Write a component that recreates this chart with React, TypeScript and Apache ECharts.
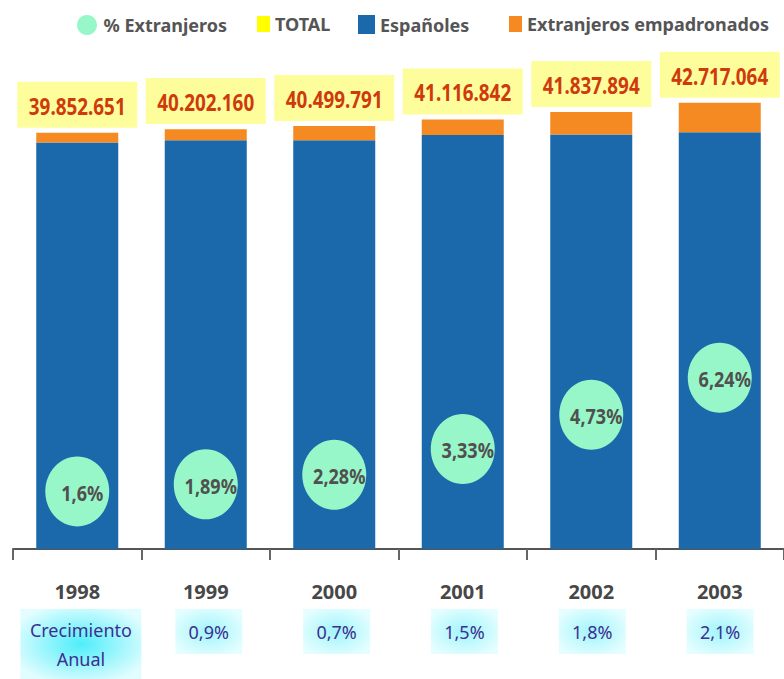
import React, { useEffect, useRef } from 'react';
import * as echarts from 'echarts';

const years = ['1998', '1999', '2000', '2001', '2002', '2003'];
const totals = [39852651, 40202160, 40499791, 41116842, 41837894, 42717064];
const espanoles = [38920000, 39140000, 39140000, 39650000, 39680000, 39900000];
const extranjeros = [930000, 1060000, 1360000, 1470000, 2160000, 2820000];
const pctExtranjeros = [1.6, 1.89, 2.28, 3.33, 4.73, 6.24];
const growthLabels = ['Crecimiento\nAnual', '0,9%', '0,7%', '1,5%', '1,8%', '2,1%'];
const legendNames = ['% Extranjeros', 'TOTAL', 'Españoles', 'Extranjeros empadronados'];

const FONT = '"Noto Sans", "DejaVu Sans Condensed", sans-serif';
const NARROW = 0.82;

const fmtThousands = (v: number) => String(v).replace(/\B(?=(\d{3})+(?!\d))/g, '.');
const fmtPct = (v: number) => String(v).replace('.', ',') + '%';

export default function App() {
  const ref = useRef<HTMLDivElement>(null);
  useEffect(() => {
    if (!ref.current) return;
    const chart = echarts.init(ref.current, undefined, { renderer: 'svg' });
    const glowStrong = {
      type: 'radial', x: 0.5, y: 0.5, r: 0.6,
      colorStops: [
        { offset: 0, color: '#4eeefa' },
        { offset: 1, color: '#e2fdff' },
      ],
    };
    const glowLight = {
      type: 'radial', x: 0.5, y: 0.5, r: 0.6,
      colorStops: [
        { offset: 0, color: '#a0f5fc' },
        { offset: 1, color: '#e6feff' },
      ],
    };
    const legendText = { fontFamily: FONT, fontSize: 18, fontWeight: 'bold', color: '#555555' };
    const legendBase = { top: 10, selectedMode: false, textStyle: legendText, padding: 5 };

    const totalsItem = (params: any, api: any) => {
      const pt = api.coord([api.value(0), api.value(1)]);
      const bottom = pt[1] - 5;
      return {
        type: 'group',
        children: [
          {
            type: 'rect',
            shape: { x: pt[0] - 60, y: bottom - 46, width: 120, height: 46 },
            style: { fill: '#fdfd9c' },
          },
          {
            type: 'text',
            x: pt[0],
            y: bottom - 22,
            scaleX: NARROW,
            style: {
              text: fmtThousands(api.value(1)),
              fill: '#cf3a0c',
              fontFamily: FONT,
              fontSize: 23,
              fontWeight: 'bold',
              align: 'center',
              verticalAlign: 'middle',
            },
          },
        ],
      };
    };

    const bubbleItem = (params: any, api: any) => {
      const pt = api.coord([api.value(0), api.value(1)]);
      return {
        type: 'group',
        children: [
          {
            type: 'ellipse',
            shape: { cx: pt[0], cy: pt[1], rx: 32, ry: 35 },
            style: { fill: '#98f7c8' },
          },
          {
            type: 'text',
            x: pt[0] + 5,
            y: pt[1] + 1,
            scaleX: NARROW,
            style: {
              text: fmtPct(api.value(1)),
              fill: '#505050',
              fontFamily: FONT,
              fontSize: 22,
              fontWeight: 'bold',
              align: 'center',
              verticalAlign: 'middle',
            },
          },
        ],
      };
    };

    chart.setOption({
      animation: false,
      backgroundColor: '#ffffff',
      legend: [
        { ...legendBase, data: [legendNames[0]], left: 72, icon: 'circle', itemWidth: 23, itemHeight: 20 },
        { ...legendBase, data: [legendNames[1]], left: 252, icon: 'rect', itemWidth: 13, itemHeight: 16 },
        { ...legendBase, data: [legendNames[2]], left: 353, icon: 'rect', itemWidth: 17, itemHeight: 19 },
        { ...legendBase, data: [legendNames[3]], left: 504, icon: 'rect', itemWidth: 13, itemHeight: 16 },
      ],
      grid: [
        { left: 13, right: -3, top: 79, bottom: 130 },
        { left: 17, right: -7, top: 600, height: 10 },
      ],
      xAxis: [
        {
          type: 'category',
          gridIndex: 0,
          data: years,
          axisLine: { lineStyle: { color: '#555555', width: 2 } },
          axisTick: { show: true, length: 11, lineStyle: { color: '#666666', width: 2 } },
          axisLabel: {
            margin: 30, fontFamily: FONT, fontSize: 20, fontWeight: 'bold',
            color: '#474747', lineHeight: 24, interval: 0,
          },
        },
        {
          type: 'category',
          gridIndex: 1,
          position: 'bottom',
          data: growthLabels.map((g, i) =>
            i === 0
              ? { value: g, textStyle: { padding: [6, 10], width: 101, lineHeight: 29, backgroundColor: glowStrong } }
              : g
          ),
          axisLine: { show: false },
          axisTick: { show: false },
          axisLabel: {
            margin: 0, fontFamily: FONT, fontSize: 18, color: '#3d2f8f', interval: 0,
            lineHeight: 25, padding: [10, 14], width: 39, overflow: 'none', align: 'center',
            backgroundColor: glowLight, verticalAlign: 'top',
          },
        },
      ],
      yAxis: [
        { type: 'value', gridIndex: 0, min: 0, max: 45000000, show: false, splitLine: { show: false } },
        { type: 'value', gridIndex: 0, min: -0.75, max: 18.44, show: false, splitLine: { show: false } },
        { type: 'value', gridIndex: 1, show: false, splitLine: { show: false } },
      ],
      series: [
        {
          name: legendNames[2], type: 'bar', stack: 'pop', data: espanoles, barWidth: 82,
          itemStyle: { color: '#1b68aa' },
        },
        {
          name: legendNames[3], type: 'bar', stack: 'pop', data: extranjeros, barWidth: 82,
          itemStyle: { color: '#f58a23' },
        },
        {
          name: legendNames[1], type: 'custom', z: 5,
          data: totals.map((v, i) => [i, v]),
          encode: { x: 0, y: 1 },
          itemStyle: { color: '#ffff00' },
          renderItem: totalsItem,
        },
        {
          name: legendNames[0], type: 'custom', yAxisIndex: 1, z: 4,
          data: pctExtranjeros.map((v, i) => [i, v]),
          encode: { x: 0, y: 1 },
          itemStyle: { color: '#98f7c8' },
          renderItem: bubbleItem,
        },
      ],
    });
    return () => chart.dispose();
  }, []);
  return (
    <div
      ref={ref}
      style={{ position: 'fixed', left: 0, top: 0, width: 784, height: 679, background: '#fff' }}
    />
  );
}
